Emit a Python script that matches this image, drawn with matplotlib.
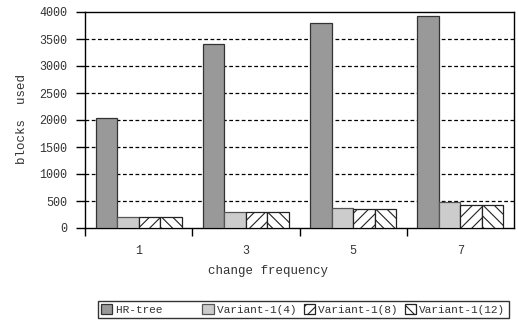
import matplotlib
matplotlib.use("Agg")
import matplotlib.pyplot as plt
import numpy as np

categories = ["1", "3", "5", "7"]
hr_tree = [2030, 3400, 3790, 3925]
variant_4 = [210, 290, 375, 475]
variant_8 = [210, 290, 358, 432]
variant_12 = [210, 290, 358, 432]
series_labels = ["HR-tree", "Variant-1(4)", "Variant-1(8)", "Variant-1(12)"]
yticks = [0, 500, 1000, 1500, 2000, 2500, 3000, 3500, 4000]

plt.rcParams['font.family'] = ['Liberation Mono', 'DejaVu Sans Mono']
plt.rcParams['hatch.linewidth'] = 0.8
txt = '#333333'

fig = plt.figure(figsize=(5.18, 3.22), dpi=100)
ax = fig.add_axes([85/518, 1-228/322, (514-85)/518, (228-12)/322])

x = np.arange(len(categories))
w = 0.2
styles = [
    dict(color='#999999', edgecolor='#333333', hatch=None),
    dict(color='#cccccc', edgecolor='#555555', hatch=None),
    dict(color='white', edgecolor='#222222', hatch='///'),
    dict(color='white', edgecolor='#222222', hatch='\\\\\\'),
]
data = [hr_tree, variant_4, variant_8, variant_12]
for i, (vals, st, lab) in enumerate(zip(data, styles, series_labels)):
    ax.bar(x + (i - 1.5) * w, vals, w, label=lab + " " * (13 - len(lab)),
           facecolor=st['color'], edgecolor=st['edgecolor'], hatch=st['hatch'],
           linewidth=0.9, zorder=3)

ax.set_xlim(-0.5, 3.5)
ax.set_ylim(0, 4000)
ax.set_yticks(yticks)
ax.set_yticklabels([str(v) for v in yticks], fontsize=8.5, color=txt)
for v in yticks[1:-1]:
    ax.axhline(v, color='black', linestyle=(0, (3, 2)), linewidth=0.9, zorder=1)

ax.set_xticks([-0.5, 0.5, 1.5, 2.5])
ax.set_xticklabels([])
ax.set_xticks(x, minor=True)
ax.set_xticklabels(categories, minor=True, fontsize=8.5, color=txt)
ax.tick_params(axis='x', which='major', length=6, width=1, color='black')
ax.tick_params(axis='x', which='minor', length=0, pad=12)
ax.tick_params(axis='y', length=6.5, width=1, pad=6, color='black')

for s in ax.spines.values():
    s.set_linewidth(1)
    s.set_color('black')

ax.set_xlabel("change frequency", fontsize=9, color=txt)
ax.xaxis.set_label_coords((268-85)/429, -0.171)
ax.set_ylabel("blocks  used", fontsize=9, color=txt)
ax.yaxis.set_label_coords(-0.133, 0.505)

leg = fig.legend(loc='upper left', bbox_to_anchor=(98/518, 1-301/322), ncol=4,
                 fontsize=8, frameon=True, fancybox=False, handlelength=1.0,
                 handleheight=1.0, handletextpad=0.3, columnspacing=0.05,
                 borderpad=0.3, borderaxespad=0)
leg.get_frame().set_edgecolor('black')
leg.get_frame().set_linewidth(1)
for t in leg.get_texts():
    t.set_color(txt)

fig.savefig("out.png", dpi=100)
